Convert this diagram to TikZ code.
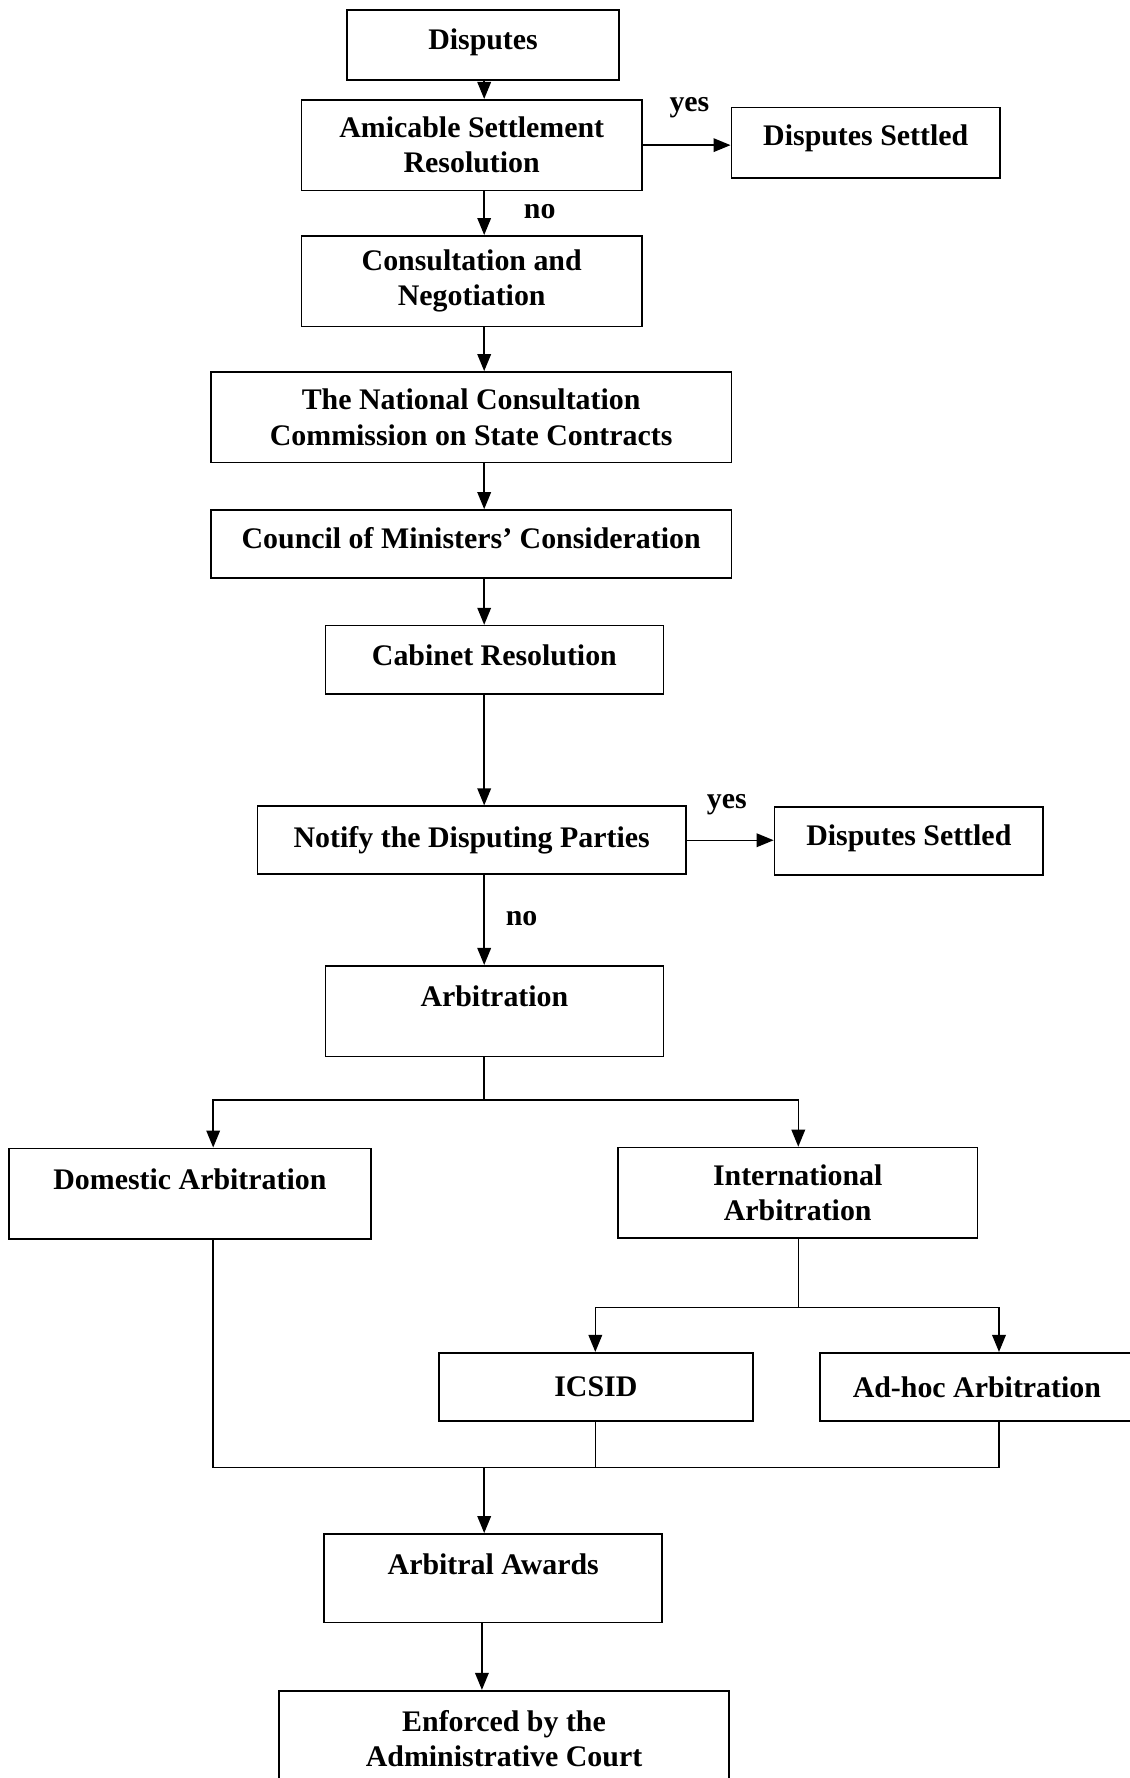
\documentclass[tikz,border=0pt]{standalone}
\usepackage{fontspec}
\setmainfont{Liberation Serif}
\usetikzlibrary{arrows.meta}
\newcommand\boxfont{\bfseries\fontsize{15}{17.6}\selectfont}
\begin{document}
\begin{tikzpicture}[x=0.02cm,y=-0.02cm,
  box/.style={draw, line width=0.85pt, inner sep=0pt, align=center, font=\boxfont},
  sz/.style 2 args={minimum width=#1*0.02cm, minimum height=#2*0.02cm},
  topbox/.style n args={3}{box, anchor=north, minimum width=#1*0.02cm, text height=#2, text depth=#3},
  lbl/.style={font=\boxfont, inner sep=0pt},
  arr/.style={line width=0.75pt, -{Triangle[length=0.3cm,width=0.24cm]}},
  ln/.style={line width=0.75pt}]
\useasboundingbox (0,0) rectangle (996,1568);
\fill[white] (0,0) rectangle (996,1568);

% boxes
\node[topbox={240}{0.70cm}{0.54cm}] (disp) at (426,8) {Disputes};
\node[box, sz={300}{80}] (amic) at (416,128) {Amicable Settlement\\Resolution};
\node[topbox={237}{0.68cm}{0.56cm}] (ds1) at (763.5,94) {Disputes Settled};
\node[box, sz={300}{80}] (cons) at (416,248) {Consultation and\\Negotiation};
\node[box, sz={459}{80}] (nat) at (415.5,368) {The National Consultation\\Commission on State Contracts};
\node[topbox={459}{0.68cm}{0.52cm}] (coun) at (415.5,449) {Council of Ministers’ Consideration};
\node[topbox={298}{0.70cm}{0.50cm}] (cab) at (436,551) {Cabinet Resolution};
\node[box, sz={378}{60}] (noti) at (416,741) {Notify the Disputing Parties};
\node[topbox={237}{0.68cm}{0.52cm}] (ds2) at (801.5,711) {Disputes Settled};
\node[topbox={298}{0.72cm}{0.88cm}] (arb) at (436,851) {Arbitration};
\node[topbox={319}{0.72cm}{0.88cm}] (dom) at (167.5,1012) {Domestic Arbitration};
\node[box, sz={317}{80}] (intl) at (703.5,1052) {International\\Arbitration};
\node[box, sz={277}{60}] (icsid) at (525.5,1223) {ICSID};
\node[box, sz={277}{60}] (adhoc) at (861.5,1223) {Ad-hoc Arbitration};
\node[topbox={298}{0.72cm}{0.84cm}] (aw) at (435,1352) {Arbitral Awards};
\node[box, sz={397}{84}] (enf) at (444.5,1533) {Enforced by the\\Administrative Court};

% labels
\node[lbl] (yes1) at (608,95) {yes};
\node[lbl] (no1) at (476,187) {no};
\node[lbl] (yes2) at (641,710) {yes};
\node[lbl] (no2) at (460,810) {no};

% helper coordinates
\coordinate (mx) at (427,0);
\coordinate (j1) at (427,970);
\coordinate (jd) at (188,970);
\coordinate (ji) at (704,970);
\coordinate (j2) at (704,1153);
\coordinate (jc) at (525,1153);
\coordinate (ja) at (881,1153);
\coordinate (k) at (427,1294);
\coordinate (kd) at (188,1294);
\coordinate (kc) at (525,1294);
\coordinate (ka) at (881,1294);
\coordinate (ex) at (425,0);

% connectors
\draw[arr] (disp.south -| mx) -- (amic.north -| mx);
\draw[arr] (amic.east) -- (ds1.west |- amic.east);
\draw[arr] (amic.south -| mx) -- (cons.north -| mx);
\draw[arr] (cons.south -| mx) -- (nat.north -| mx);
\draw[arr] (nat.south -| mx) -- (coun.north -| mx);
\draw[arr] (coun.south -| mx) -- (cab.north -| mx);
\draw[arr] (cab.south -| mx) -- (noti.north -| mx);
\draw[arr] (noti.east) -- (ds2.west |- noti.east);
\draw[arr] (noti.south -| mx) -- (arb.north -| mx);
\draw[ln] (arb.south -| j1) -- (j1);
\draw[arr] (j1) -- (jd) -- (dom.north -| jd);
\draw[arr] (j1) -- (ji) -- (intl.north -| ji);
\draw[ln] (intl.south -| j2) -- (j2);
\draw[arr] (j2) -- (jc) -- (icsid.north -| jc);
\draw[arr] (j2) -- (ja) -- (adhoc.north -| ja);
\draw[ln] (dom.south -| kd) -- (kd) -- (ka) -- (adhoc.south -| ka);
\draw[ln] (icsid.south -| kc) -- (kc);
\draw[arr] (k) -- (aw.north -| k);
\draw[arr] (aw.south -| ex) -- (enf.north -| ex);
\end{tikzpicture}
\end{document}
